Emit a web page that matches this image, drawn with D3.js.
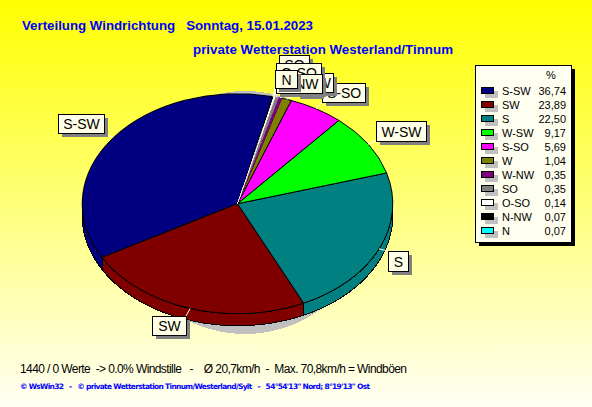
<!DOCTYPE html>
<html><head><meta charset="utf-8">
<script src="https://cdn.jsdelivr.net/npm/d3@7/dist/d3.min.js"></script>
<style>html,body{margin:0;padding:0;background:#fff}svg{display:block}text{white-space:pre;font-family:"Liberation Sans",Arial,sans-serif}</style>
</head><body><div id="c"></div>
<script>
const categories=["S-SW","SW","S","W-SW","S-SO","W","W-NW","SO","O-SO","N-NW","N"];
const percents=[36.74,23.89,22.50,9.17,5.69,1.04,0.35,0.35,0.14,0.07,0.07];
const percentLabels=["36,74","23,89","22,50","9,17","5,69","1,04","0,35","0,35","0,14","0,07","0,07"];
const colors=["#000080","#800000","#008080","#00ff00","#ff00ff","#808000","#800080","#808080","#ffffff","#000000","#00ffff"];
// top-left corners and sizes of the callout boxes (layout only)
const calloutX=[58,152,388,376,322,296,287,279,276,276,275];
const calloutY=[114,316,251,121,83,76,73,55,63,74,70];
const calloutW=[46,34,20,50,43,24,46,30,45,46,22];
const calloutH=[19,19,20,20,19,19,19,19,19,19,18];

const W=592,H=407,cx=237.5,cy=203.7,rx=155.3,ry=110,depth=12;
const svg=d3.select("#c").append("svg").attr("width",W).attr("height",H);
const grad=svg.append("defs").append("linearGradient").attr("id","bg").attr("x1",0).attr("y1",0).attr("x2",0).attr("y2",1);
grad.append("stop").attr("offset","0%").attr("stop-color","#ffff00");
grad.append("stop").attr("offset","100%").attr("stop-color","#fffff4");
svg.append("rect").attr("width",W).attr("height",H).attr("fill","url(#bg)");

const title=(t,x,y,len)=>svg.append("text").attr("x",x).attr("y",y).attr("fill","#0000ff").attr("font-weight","bold").attr("font-size",13.3).attr("textLength",len).attr("lengthAdjust","spacing").text(t);
title("Verteilung Windrichtung   Sonntag, 15.01.2023",22,30,291);
title("private Wetterstation Westerland/Tinnum",193,54,260);

// shadow
svg.append("ellipse").attr("cx",245).attr("cy",212.5).attr("rx",125).attr("ry",121.5).attr("fill","#c0c0c0").attr("shape-rendering","crispEdges");

const start=13*Math.PI/180;
const pie=d3.pie().sort(null).startAngle(start).endAngle(start-2*Math.PI);
const arcs=pie(percents);
const px=a=>cx+rx*Math.sin(a), py=a=>cy-ry*Math.cos(a);

// front wall
const line=d3.line().x(d=>d[0]).y(d=>d[1]);
const frontLo=-1.5*Math.PI, frontHi=-0.5*Math.PI;
const wall=svg.append("g").attr("shape-rendering","crispEdges");
arcs.forEach((d,i)=>{
  const hi=Math.min(d.startAngle,frontHi), lo=Math.max(d.endAngle,frontLo);
  if(lo>=hi) return;
  const as=d3.range(0,41).map(k=>lo+(hi-lo)*k/40);
  const pts=as.map(a=>[px(a),py(a)]).concat(as.slice().reverse().map(a=>[px(a),py(a)+depth]));
  wall.append("path").attr("d",line(pts)+"Z").attr("fill",colors[i]).attr("stroke","#000").attr("stroke-width",1);
});

// top face: the narrowest slices go first so their black edge does not hide the thin ones
const order=d3.range(arcs.length).sort((a,b)=>(percents[a]<0.1?0:1)-(percents[b]<0.1?0:1)||a-b);
const arc=d3.arc().innerRadius(0).outerRadius(rx);
const thin=v=>v>=0.1&&v<1;
svg.append("g").attr("transform",`translate(${cx},${cy}) scale(1,${ry/rx})`).attr("shape-rendering","crispEdges")
 .selectAll("path").data(order).join("path").attr("d",i=>arc(arcs[i])).attr("fill",i=>colors[i])
 .attr("stroke",i=>thin(percents[i])?colors[i]:"#000").attr("stroke-width",i=>thin(percents[i])?0.6:1).attr("vector-effect","non-scaling-stroke");

// callouts
const labels=svg.append("g");
arcs.forEach((d,i)=>{
  const m=(d.startAngle+d.endAngle)/2;
  const x=calloutX[i],y=calloutY[i],w=calloutW[i],h=calloutH[i];
  const ax=px(m),ay=py(m);
  labels.append("line").attr("x1",ax).attr("y1",ay).attr("x2",Math.max(x,Math.min(x+w,ax))).attr("y2",Math.max(y,Math.min(y+h,ay))).attr("stroke","#fff").attr("stroke-width",1);
  labels.append("rect").attr("x",x+4).attr("y",y+4).attr("width",w).attr("height",h).attr("fill","#808080").attr("shape-rendering","crispEdges");
  labels.append("rect").attr("x",x+.5).attr("y",y+.5).attr("width",w).attr("height",h).attr("fill","#ffffe8").attr("stroke","#000").attr("shape-rendering","crispEdges");
  labels.append("text").attr("x",x+w/2+.5).attr("y",y+h/2+5.5).attr("text-anchor","middle").attr("font-size",14).attr("fill","#000").text(categories[i]);
});

// legend
const lx=475,ly=65,lw=96,lh=177;
const lg=svg.append("g").attr("shape-rendering","crispEdges");
lg.append("rect").attr("x",lx+4).attr("y",ly+4).attr("width",lw).attr("height",lh).attr("fill","#000");
lg.append("rect").attr("x",lx+.5).attr("y",ly+.5).attr("width",lw).attr("height",lh).attr("fill","#fffff0").attr("stroke","#000");
const row=d3.scalePoint().domain(categories).range([91,231]);
const lt=svg.append("g").attr("font-size",11).attr("fill","#000");
lt.append("text").attr("x",551).attr("y",79).attr("text-anchor","middle").text("%");
categories.forEach((c,i)=>{
  const y=row(c);
  lg.append("rect").attr("x",485).attr("y",y).attr("width",13).attr("height",7).attr("fill","#c0c0c0");
  lg.append("rect").attr("x",481.5).attr("y",y-3.5).attr("width",12).attr("height",6).attr("fill",colors[i]).attr("stroke","#000");
  lt.append("text").attr("x",502).attr("y",y+4).text(c);
  lt.append("text").attr("x",566).attr("y",y+4).attr("text-anchor","end").text(percentLabels[i]);
});

svg.append("text").attr("x",20).attr("y",373).attr("font-size",12).attr("fill","#000").attr("textLength",387).attr("lengthAdjust","spacing")
 .text("1440 / 0 Werte  -> 0.0% Windstille   -    Ø 20,7km/h  -  Max. 70,8km/h = Windböen");
svg.append("text").attr("x",20).attr("y",389).attr("font-size",7.5).attr("font-weight","bold").attr("fill","#0000ff").attr("textLength",350).attr("lengthAdjust","spacing")
 .style("font-family","'DejaVu Sans'")
 .text("© WsWin32   -   © private Wetterstation Tinnum/Westerland/Sylt   -   54°54'13\" Nord; 8°19'13\" Ost");
</script></body></html>
